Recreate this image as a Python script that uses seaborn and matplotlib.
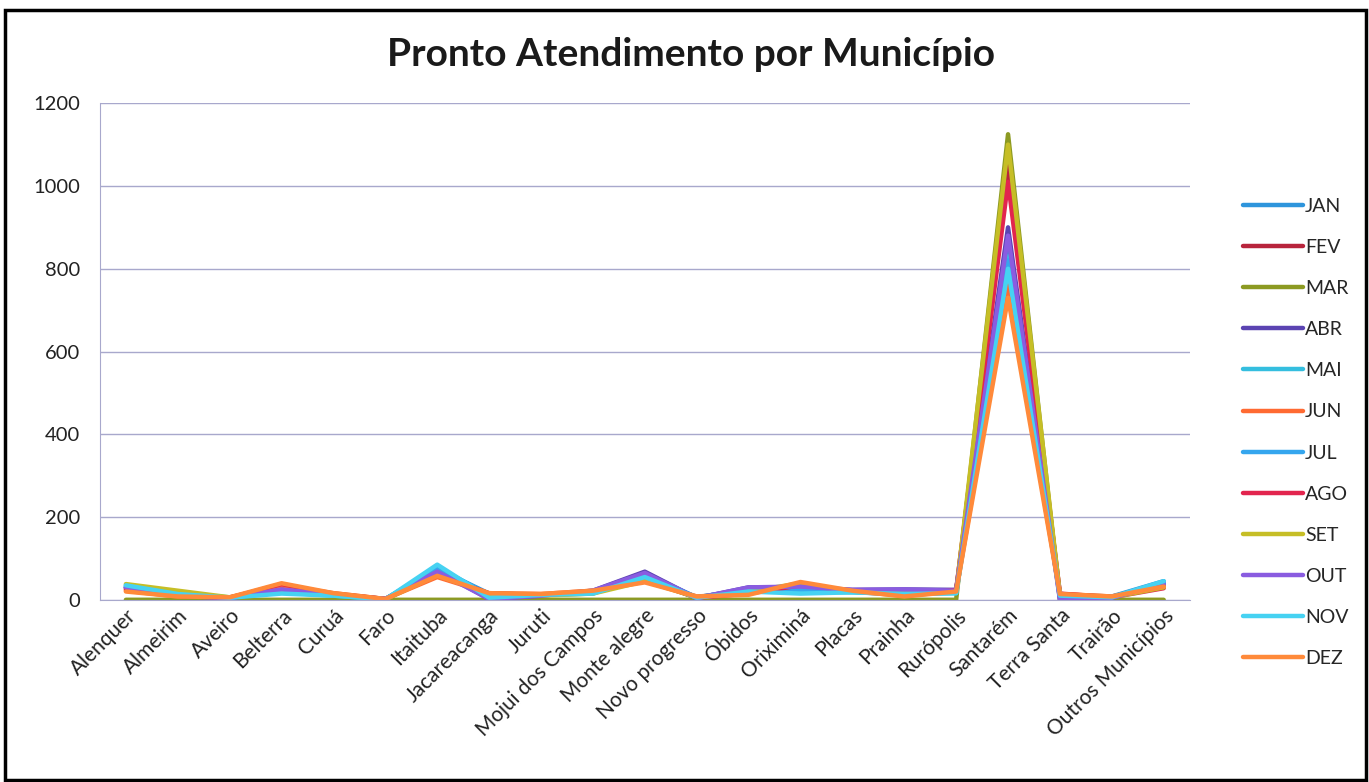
import matplotlib
matplotlib.use('Agg')
import matplotlib.pyplot as plt
import seaborn as sns
import pandas as pd
from matplotlib.patches import Rectangle

# Pronto Atendimento por Município - monthly counts per municipality
municipios = ["Alenquer", "Almeirim", "Aveiro", "Belterra", "Curuá", "Faro",
              "Itaituba", "Jacareacanga", "Juruti", "Mojui dos Campos",
              "Monte alegre", "Novo progresso", "Óbidos", "Oriximiná", "Placas",
              "Prainha", "Rurópolis", "Santarém", "Terra Santa", "Trairão",
              "Outros Municípios"]

meses = ["JAN", "FEV", "MAR", "ABR", "MAI", "JUN",
         "JUL", "AGO", "SET", "OUT", "NOV", "DEZ"]

jan = [30, 12, 5, 25, 14, 2, 75, 15, 12, 20, 60, 6, 25, 30, 22, 20, 22, 860, 12, 8, 45]
fev = [28, 10, 5, 35, 15, 1, 65, 14, 12, 18, 50, 5, 20, 35, 20, 15, 20, 1050, 14, 6, 35]
mar = [0, 0, 0, 0, 0, 0, 0, 0, 0, 0, 0, 0, 0, 0, 0, 0, 0, 1125, 0, 0, 0]
abr = [30, 10, 4, 22, 12, 2, 70, 2, 10, 22, 68, 4, 30, 30, 24, 25, 24, 900, 2, 5, 40]
mai = [35, 15, 6, 18, 10, 1, 80, 8, 12, 15, 60, 5, 22, 20, 18, 14, 16, 830, 10, 6, 42]
jun = [22, 8, 6, 35, 16, 2, 55, 16, 14, 22, 45, 8, 15, 40, 20, 10, 20, 760, 14, 8, 35]
jul = [32, 12, 5, 20, 12, 1, 78, 12, 11, 20, 62, 6, 25, 25, 20, 18, 22, 820, 12, 7, 40]
ago = [25, 10, 5, 38, 14, 2, 62, 15, 12, 18, 48, 5, 15, 35, 22, 12, 24, 1010, 15, 6, 28]
setm = [38, 22, 6, 20, 12, 1, 60, 14, 10, 15, 45, 6, 20, 40, 20, 15, 18, 1100, 12, 6, 30]
out = [30, 10, 4, 25, 12, 2, 68, 2, 10, 22, 65, 4, 30, 32, 24, 25, 22, 880, 0, 5, 38]
nov = [35, 14, 5, 15, 10, 1, 85, 5, 12, 15, 55, 5, 20, 15, 18, 14, 16, 800, 10, 6, 45]
dez = [20, 8, 6, 40, 16, 2, 58, 16, 14, 22, 42, 8, 12, 43, 22, 8, 20, 730, 14, 8, 32]

series = [jan, fev, mar, abr, mai, jun, jul, ago, setm, out, nov, dez]

cores = ["#2E95DC", "#B8243C", "#8C9A22", "#5B44B2", "#34BEDF", "#FF6A32",
         "#35A6EE", "#E2254E", "#C6BE26", "#8A5CE0", "#46D2F2", "#FF8A3A"]

rows = []
for mes, vals in zip(meses, series):
    for i, v in enumerate(vals):
        rows.append({"idx": i, "valor": v, "mes": mes})
df = pd.DataFrame(rows)

sns.set_style("white")
plt.rcParams['font.family'] = ['Lato', 'DejaVu Sans']

fig = plt.figure(figsize=(13.69, 7.82), dpi=100)
ax = fig.add_axes([0.073, 0.233, 0.796, 0.635])

sns.lineplot(data=df, x="idx", y="valor", hue="mes", hue_order=meses,
             palette=cores, linewidth=3.2, ax=ax, legend=True, sort=False)

ax.set_xlim(-0.5, len(municipios) - 0.5)
ax.set_ylim(0, 1200)
ax.set_yticks(range(0, 1201, 200))
ax.yaxis.grid(True, color="#A8A8CC", linewidth=1)
ax.set_axisbelow(True)
ax.set_xticks(range(len(municipios)))
ax.set_xticklabels(municipios, rotation=45, ha="right", rotation_mode="anchor",
                   fontsize=15, color="#222222")
ax.tick_params(axis="y", labelsize=14.5, labelcolor="#222222", length=0, pad=14)
ax.tick_params(axis="x", length=0, pad=4)
ax.set_xlabel("")
ax.set_ylabel("")
for s in ["top", "right"]:
    ax.spines[s].set_visible(False)
ax.spines["left"].set_color("#A8A8CC")
ax.spines["bottom"].set_color("#A8A8CC")

handles, labels = ax.get_legend_handles_labels()
ax.get_legend().remove()
fig.legend(handles, labels, loc="center left", bbox_to_anchor=(0.895, 0.447),
           frameon=False, fontsize=14, labelspacing=1.24, handlelength=3.1,
           handletextpad=0.1)

fig.text(0.505, 0.93, "Pronto Atendimento por Município", ha="center",
         va="center", fontsize=28, fontweight="bold", color="#1a1a1a")

fig.patches.append(Rectangle((0.004, 0.002), 0.994, 0.985, transform=fig.transFigure,
                             fill=False, edgecolor="black", linewidth=2.5))

fig.savefig("out.png", dpi=100)
